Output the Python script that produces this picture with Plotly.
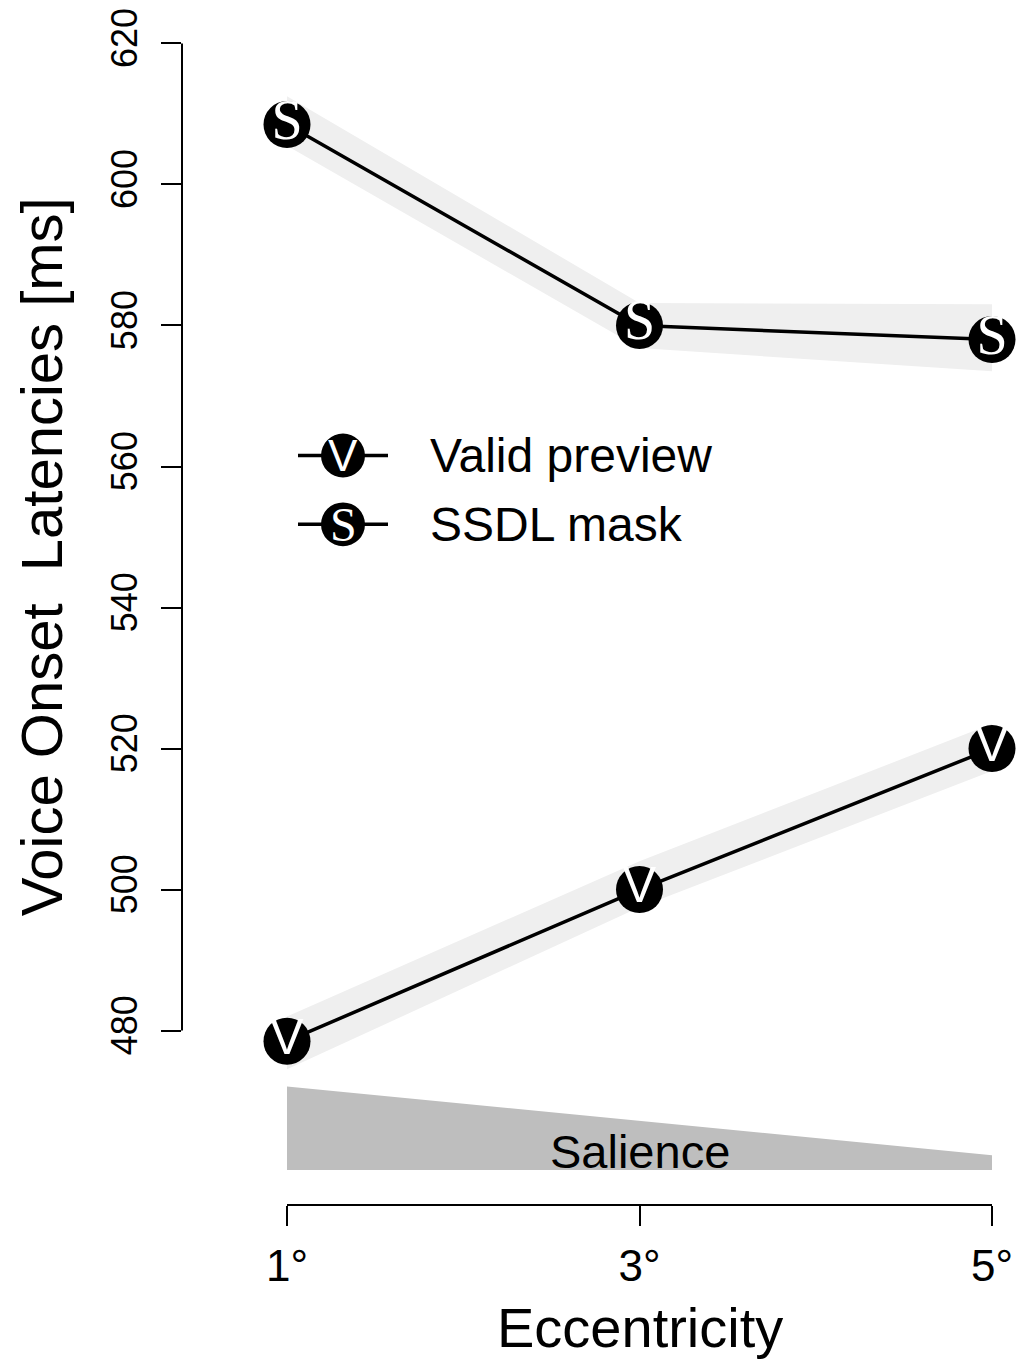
import plotly.graph_objects as go

# Eccentricity conditions (degrees)
eccentricity = [1, 3, 5]
tick_text = ["1°", "3°", "5°"]

# Voice onset latencies [ms] and confidence band limits
valid_mean = [478.5, 500.0, 520.0]
valid_lower = [474.5, 497.5, 516.8]
valid_upper = [482.0, 504.0, 523.5]

ssdl_mean = [608.5, 580.0, 578.0]
ssdl_lower = [605.5, 576.8, 573.5]
ssdl_upper = [612.5, 583.2, 583.0]

y_ticks = [480, 500, 520, 540, 560, 580, 600, 620]

FONT = "Liberation Sans, Arial, sans-serif"
SERIF = "Liberation Serif, Times New Roman, serif"
BAND = "#efefef"

# page body has an 8 px margin; work in screen pixels and shift
OFF = 8
W, H = 1028 - OFF, 1360 - OFF
L, R, T, B = 182 - OFF, 0, 20 - OFF, 155
PLOT_W = W - L - R
PLOT_H = H - T - B

# screen geometry of the original: 1 -> 287 px, 5 -> 992 px; 620 -> 39.5 px, 480 -> 1030 px
X1, X5, Y620, Y480 = 287 - OFF, 992 - OFF, 39.5 - OFF, 1030 - OFF
px_per_x = (X5 - X1) / 4
px_per_y = (Y480 - Y620) / 140
x_range = [1 - (X1 - L) / px_per_x, 5 + (W - R - X5) / px_per_x]
y_range = [620 - (H - B - Y620) / px_per_y, 620 + (Y620 - T) / px_per_y]


def py_to_y(py):
    return 620 - (py - OFF - Y620) / px_per_y


def paper_x(px):
    return (px - OFF - L) / PLOT_W


def paper_y(py):
    return (H - B - (py - OFF)) / PLOT_H


fig = go.Figure()

# confidence bands
for lo, hi in [(valid_lower, valid_upper), (ssdl_lower, ssdl_upper)]:
    fig.add_trace(
        go.Scatter(
            x=eccentricity + eccentricity[::-1],
            y=hi + lo[::-1],
            mode="lines",
            fill="toself",
            fillcolor=BAND,
            line=dict(width=0),
            hoverinfo="skip",
            showlegend=False,
        )
    )

# mean lines with lettered markers
for means, letter, ffam, fsize in [
    (valid_mean, "V", FONT, 50),
    (ssdl_mean, "S", SERIF, 56),
]:
    fig.add_trace(
        go.Scatter(
            x=eccentricity,
            y=means,
            mode="lines+markers+text",
            line=dict(color="black", width=3.5),
            marker=dict(size=47, color="black", line=dict(width=0)),
            text=[letter] * len(means),
            textposition="middle center",
            textfont=dict(family=ffam, size=fsize, color="white"),
            cliponaxis=False,
            showlegend=False,
        )
    )

shapes = []
# y axis line (480..620 only)
shapes.append(dict(type="line", xref="paper", yref="y", x0=0, x1=0,
                   y0=y_ticks[0], y1=y_ticks[-1], line=dict(color="black", width=2)))
# x axis line (1..5 only)
shapes.append(dict(type="line", xref="x", yref="paper", x0=eccentricity[0], x1=eccentricity[-1],
                   y0=0, y1=0, line=dict(color="black", width=2)))
# salience wedge
sal_top_l, sal_top_r, sal_bot = py_to_y(1086), py_to_y(1155), py_to_y(1170)
shapes.append(dict(
    type="path", xref="x", yref="y",
    path=f"M {eccentricity[0]},{sal_top_l} L {eccentricity[-1]},{sal_top_r} "
         f"L {eccentricity[-1]},{sal_bot} L {eccentricity[0]},{sal_bot} Z",
    fillcolor="#bebebe", line=dict(width=0), layer="below",
))

# manual legend
legend_items = [("V", "Valid preview", FONT, 44, 453), ("S", "SSDL mask", SERIF, 48, 522)]
annotations = []
for letter, label, ffam, fsize, py in legend_items:
    shapes.append(dict(type="line", xref="paper", yref="paper",
                       x0=paper_x(298), x1=paper_x(388), y0=paper_y(py), y1=paper_y(py),
                       line=dict(color="black", width=3.5)))
    shapes.append(dict(type="circle", xref="paper", yref="paper",
                       x0=paper_x(343 - 22), x1=paper_x(343 + 22),
                       y0=paper_y(py + 22), y1=paper_y(py - 22),
                       fillcolor="black", line=dict(width=0)))
    annotations.append(dict(xref="paper", yref="paper", x=paper_x(343), y=paper_y(py),
                            text=letter, showarrow=False, xanchor="center", yanchor="middle",
                            font=dict(family=ffam, size=fsize, color="white")))
    annotations.append(dict(xref="paper", yref="paper", x=paper_x(428), y=paper_y(py),
                            text=label, showarrow=False, xanchor="left", yanchor="middle",
                            font=dict(family=FONT, size=48, color="black")))

annotations.append(dict(xref="x", yref="y", x=eccentricity[1], y=py_to_y(1151),
                        text="Salience", showarrow=False, xanchor="center", yanchor="middle",
                        font=dict(family=FONT, size=47, color="black")))
annotations.append(dict(xref="paper", yref="paper", x=paper_x(41), y=paper_y(555),
                        text="Voice Onset\u00a0 Latencies [ms]", textangle=-90, showarrow=False,
                        xanchor="center", yanchor="middle",
                        font=dict(family=FONT, size=58, color="black")))
annotations.append(dict(xref="x", yref="paper", x=eccentricity[1], y=paper_y(1328),
                        text="Eccentricity", showarrow=False, xanchor="center", yanchor="middle",
                        font=dict(family=FONT, size=56, color="black")))

fig.update_layout(
    width=W,
    height=H,
    margin=dict(l=L, r=R, t=T, b=B, pad=0),
    paper_bgcolor="white",
    plot_bgcolor="white",
    showlegend=False,
    shapes=shapes,
    annotations=annotations,
    font=dict(family=FONT, color="black"),
)
fig.update_xaxes(
    range=x_range,
    showgrid=False,
    zeroline=False,
    showline=False,
    ticks="outside",
    ticklen=20,
    tickwidth=2,
    tickcolor="black",
    tickvals=eccentricity,
    ticktext=tick_text,
    tickfont=dict(family=FONT, size=44, color="black"),
    ticklabelstandoff=2,
    ticklabeloverflow="allow",
)
fig.update_yaxes(
    range=y_range,
    showgrid=False,
    zeroline=False,
    showline=False,
    ticks="outside",
    ticklen=20,
    tickwidth=2,
    tickcolor="black",
    tickvals=y_ticks,
    tickangle=-90,
    tickfont=dict(family=FONT, size=36, color="black"),
    ticklabelstandoff=10,
    ticklabeloverflow="allow",
)

fig.write_html("out.html")
